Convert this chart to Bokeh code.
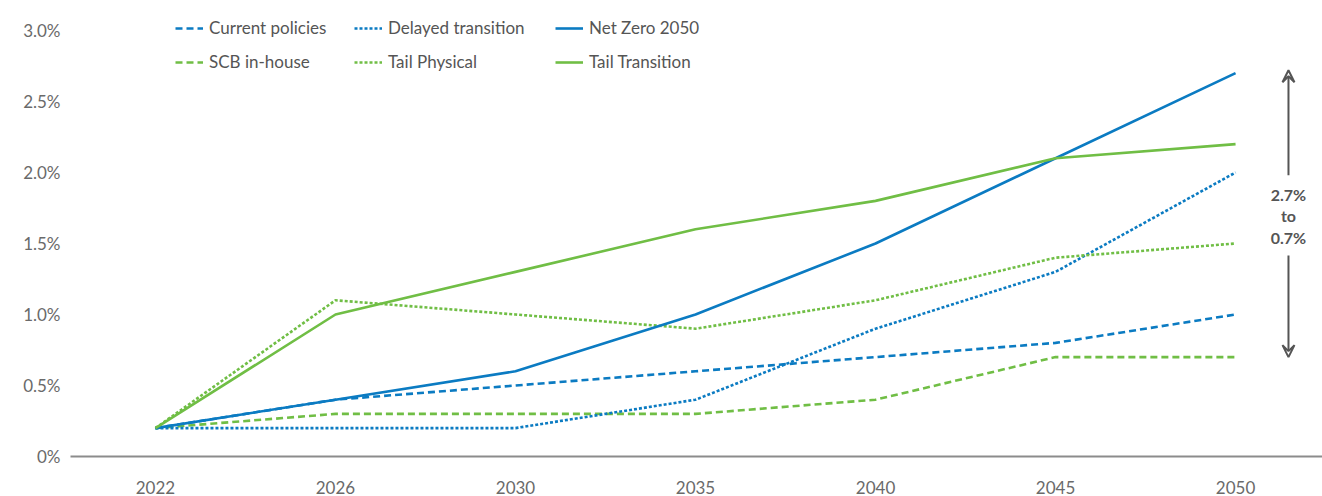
from bokeh.plotting import figure
from bokeh.models import (Range1d, FixedTicker, CustomJSTickFormatter, Legend, LegendItem,
                          Arrow, VeeHead, Label)
from bokeh.embed import file_html
from bokeh.resources import INLINE

years = ["2022", "2026", "2030", "2035", "2040", "2045", "2050"]
current_policies = [0.2, 0.4, 0.5, 0.6, 0.7, 0.8, 1.0]
delayed_transition = [0.2, 0.2, 0.2, 0.4, 0.9, 1.3, 2.0]
net_zero_2050 = [0.2, 0.4, 0.6, 1.0, 1.5, 2.1, 2.7]
scb_in_house = [0.2, 0.3, 0.3, 0.3, 0.4, 0.7, 0.7]
tail_physical = [0.2, 1.1, 1.0, 0.9, 1.1, 1.4, 1.5]
tail_transition = [0.2, 1.0, 1.3, 1.6, 1.8, 2.1, 2.2]
y_ticks = [0, 0.5, 1.0, 1.5, 2.0, 2.5, 3.0]
range_high, range_low = 2.7, 0.7

BLUE = "#0b7bc2"
GREEN = "#70be45"
TEXT = "#6a6a6a"
FONT = "Lato"

xs = list(range(len(years)))

p = figure(width=1322, height=496, output_backend="svg", toolbar_location=None,
           x_range=Range1d(-0.472, 6.483), y_range=Range1d(0, 3.197),
           min_border_left=70, min_border_right=0, min_border_top=2, min_border_bottom=40)
p.outline_line_color = None
p.grid.grid_line_color = None
p.background_fill_color = "white"

series = [
    ("Current policies", current_policies, BLUE, "7 4"),
    ("SCB in-house", scb_in_house, GREEN, "7 4"),
    ("Delayed transition", delayed_transition, BLUE, "3 2"),
    ("Tail Physical", tail_physical, GREEN, "3 2"),
    ("Net Zero 2050", net_zero_2050, BLUE, "solid"),
    ("Tail Transition", tail_transition, GREEN, "solid"),
]
items = []
for name, vals, col, dash in series:
    r = p.line(xs, vals, line_color=col, line_width=2.6, line_dash=dash)
    items.append(LegendItem(label=name, renderers=[r]))

# one legend per column so the columns sit where the reference has them
for k, lx in enumerate([105, 284, 485]):
    lg = Legend(items=items[2 * k:2 * k + 2], orientation="vertical",
                location=(lx, 384), border_line_color=None, background_fill_alpha=0,
                label_text_font=FONT, label_text_font_size="17px", label_text_color="#555555",
                glyph_width=28, glyph_height=20, label_height=20, label_standoff=6,
                spacing=13, padding=0, margin=0)
    p.add_layout(lg)

# x axis
p.xaxis.ticker = FixedTicker(ticks=xs)
p.xaxis.formatter = CustomJSTickFormatter(args=dict(labels=years),
                                          code="return labels[Math.round(tick)] || '';")
p.xaxis.axis_line_color = "#8c8c8c"
p.xaxis.axis_line_width = 2
p.xaxis.major_tick_line_color = None
p.xaxis.minor_tick_line_color = None
p.xaxis.major_label_standoff = 18
p.xaxis.major_label_text_font = FONT
p.xaxis.major_label_text_font_size = "17px"
p.xaxis.major_label_text_color = TEXT

# y axis
p.yaxis.ticker = FixedTicker(ticks=y_ticks)
p.yaxis.formatter = CustomJSTickFormatter(code="return tick == 0 ? '0%' : tick.toFixed(1) + '%';")
p.yaxis.axis_line_color = None
p.yaxis.major_tick_line_color = None
p.yaxis.minor_tick_line_color = None
p.yaxis.major_label_standoff = 4
p.yaxis.major_label_text_font = FONT
p.yaxis.major_label_text_font_size = "17px"
p.yaxis.major_label_text_color = TEXT
p.yaxis.major_label_text_baseline = "top"

# range annotation
ax = 6.294
p.add_layout(Arrow(end=VeeHead(size=12, line_color="#555555", line_width=2, fill_alpha=0),
                   x_start=ax, y_start=1.98, x_end=ax, y_end=range_high + 0.02,
                   line_color="#555555", line_width=2))
p.add_layout(Arrow(end=VeeHead(size=12, line_color="#555555", line_width=2, fill_alpha=0),
                   x_start=ax, y_start=1.415, x_end=ax, y_end=range_low,
                   line_color="#555555", line_width=2))
for txt, yy in [(f"{range_high}%", 1.845), ("to", 1.697), (f"{range_low}%", 1.542)]:
    p.add_layout(Label(x=ax, y=yy, text=txt, text_align="center", text_baseline="middle",
                       text_font=FONT, text_font_size="16px", text_font_style="bold",
                       text_color="#555555"))

open("out.html", "w").write(file_html(p, INLINE))
